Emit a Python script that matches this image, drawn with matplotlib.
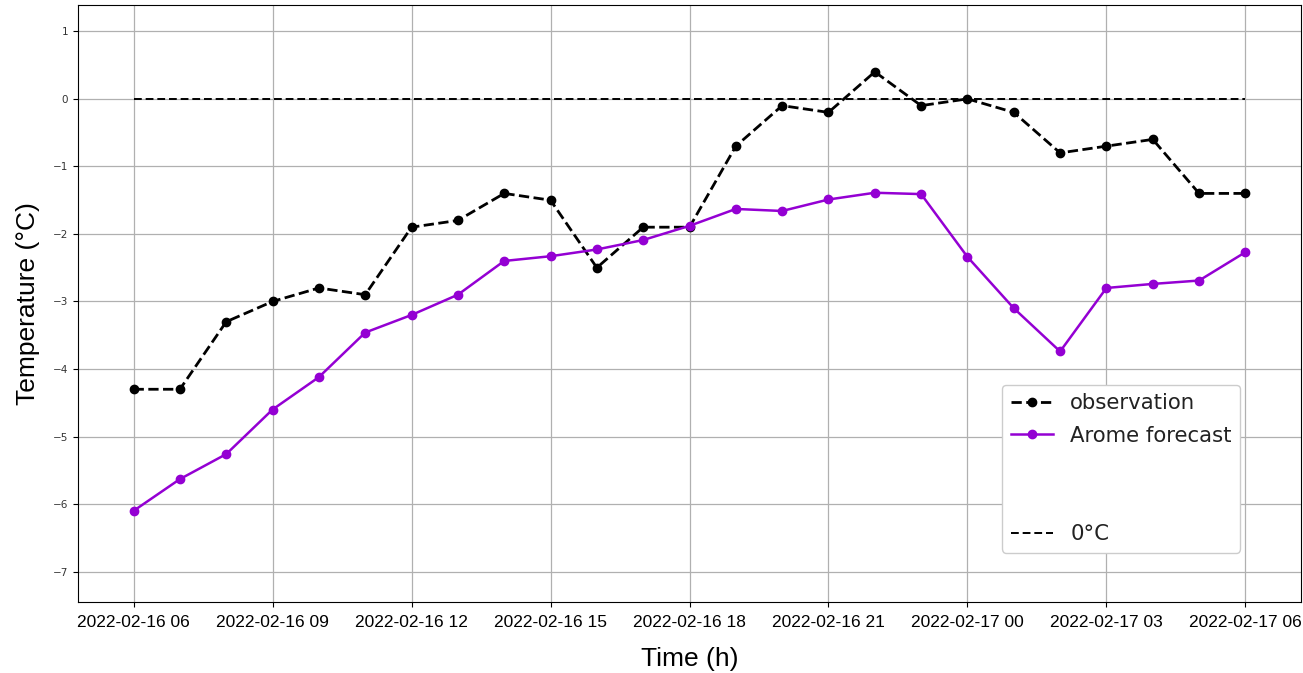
import matplotlib
matplotlib.use("Agg")
import matplotlib.pyplot as plt
import matplotlib.dates as mdates
from matplotlib.lines import Line2D
import pandas as pd

times = pd.date_range("2022-02-16 06:00", "2022-02-17 06:00", freq="h")
observation = [-4.3, -4.3, -3.3, -3.0, -2.8, -2.9, -1.9, -1.8, -1.4, -1.5, -2.5, -1.9, -1.9,
               -0.7, -0.1, -0.2, 0.4, -0.1, 0.0, -0.2, -0.8, -0.7, -0.6, -1.4, -1.4]
arome = [-6.1, -5.63, -5.26, -4.6, -4.12, -3.46, -3.2, -2.9, -2.4, -2.33, -2.23, -2.09, -1.88,
         -1.63, -1.66, -1.49, -1.39, -1.41, -2.34, -3.1, -3.74, -2.8, -2.74, -2.69, -2.27]
zero_line = [0.0] * len(times)
y_ticks = [-7, -6, -5, -4, -3, -2, -1, 0, 1]

fig = plt.figure(figsize=(13.03, 6.73), dpi=100)
ax = fig.add_axes([78 / 1303, 71 / 673, (1301 - 78) / 1303, (602 - 5) / 673])

ax.plot(times, observation, color="black", linestyle="--", linewidth=2, marker="o",
        markersize=6, label="observation", zorder=3)
ax.plot(times, arome, color="darkviolet", linestyle="-", linewidth=1.8, marker="o",
        markersize=6, label="Arome forecast", zorder=3)
ax.plot(times, zero_line, color="black", linestyle="--", linewidth=1.4, dashes=(4, 2),
        label="0°C", zorder=2)

ax.set_ylim(-7.45, 1.39)
ax.set_yticks(y_ticks)
ax.grid(True, color="#b0b0b0", linewidth=0.9)

ax.xaxis.set_major_locator(mdates.HourLocator(byhour=[0, 3, 6, 9, 12, 15, 18, 21]))
ax.xaxis.set_major_formatter(mdates.DateFormatter("%Y-%m-%d %H"))
ax.tick_params(axis="x", labelsize=12.5, pad=6)
ax.tick_params(axis="y", labelsize=7.5, labelcolor="#333333")
for lab in ax.get_xticklabels():
    lab.set_fontfamily("Liberation Sans")

ax.set_xlabel("Time (h)", fontsize=19, fontfamily="Liberation Sans", labelpad=12)
ax.set_ylabel("Temperature (°C)", fontsize=19, fontfamily="Liberation Sans", labelpad=9)

h, l = ax.get_legend_handles_labels()
blank = Line2D([], [], linestyle="none", marker=None)
handles = [h[0], h[1], blank, blank, h[2]]
labels = [l[0], l[1], " ", " ", l[2]]
leg = ax.legend(handles, labels, loc="lower right", bbox_to_anchor=(0.959, 0.065),
                fontsize=15.3, framealpha=1.0, labelspacing=0.6)
for t in leg.get_texts():
    t.set_color("#222222")

fig.savefig("out.png", dpi=100)
